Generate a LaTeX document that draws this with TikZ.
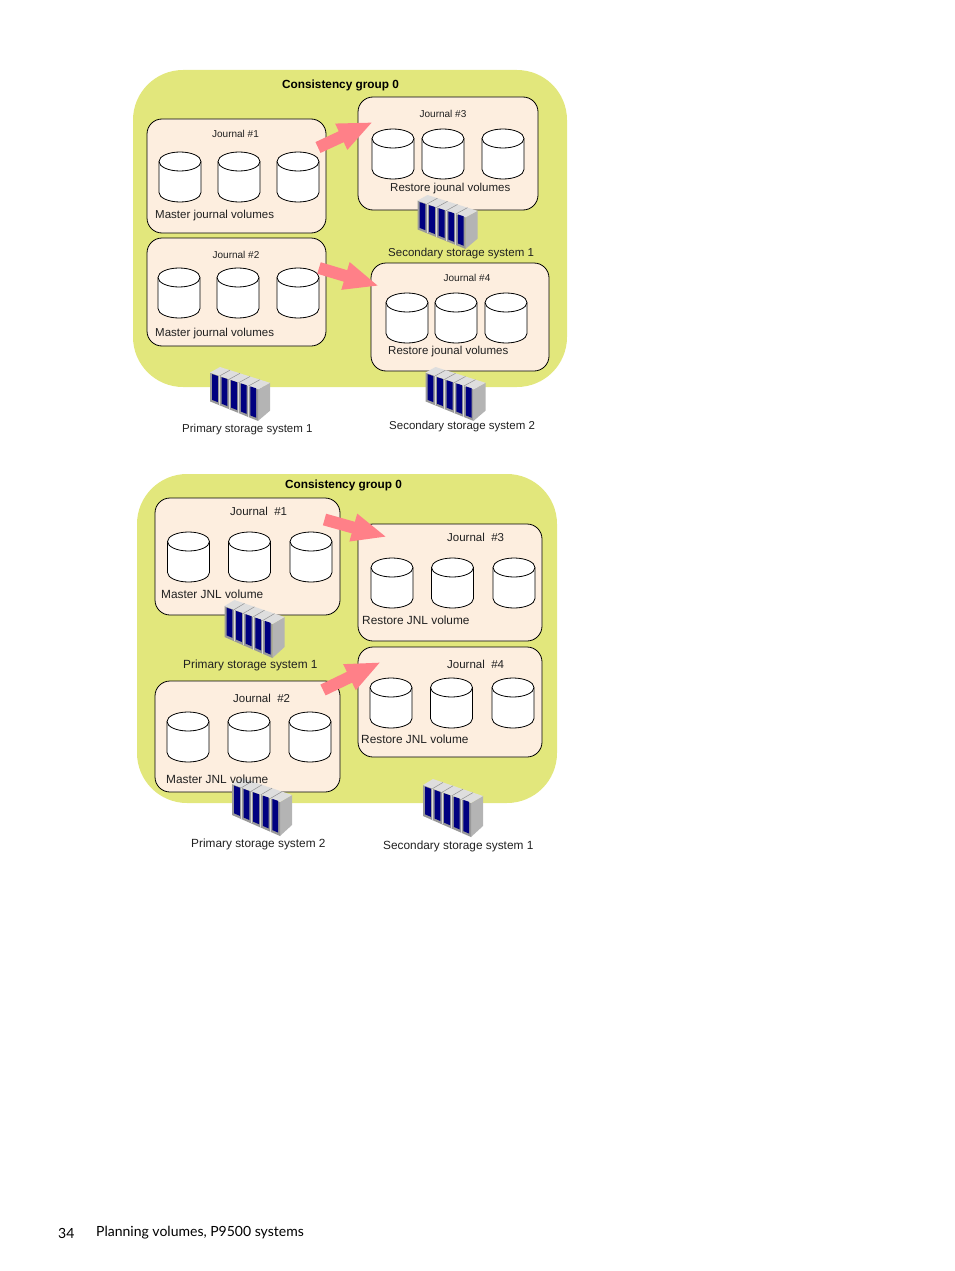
\documentclass[tikz,border=0pt]{standalone}
\usepackage{fontspec}
\setmainfont{Liberation Sans}
\newfontfamily\footfont{Lato}
\usetikzlibrary{arrows.meta}
\definecolor{grp}{HTML}{E2E77C}
\definecolor{jnl}{HTML}{FDEEDF}
\definecolor{pinkar}{HTML}{FF8088}
\definecolor{rackblue}{HTML}{000080}
\definecolor{rackgrey}{HTML}{B4B4B4}
\definecolor{racklight}{HTML}{DEDEDE}
\definecolor{txt}{HTML}{202020}
\tikzset{
  x=1pt,y=-1pt,
  group/.style={fill=grp,draw=none,rounded corners=50pt,inner sep=0pt},
  jbox/.style={fill=jnl,draw=black,line width=0.8pt,rounded corners=15pt,inner sep=0pt},
  lbl/.style={anchor=west,inner sep=0pt,text=txt,font=\fontsize{11.5}{14}\selectfont},
  blbl/.style={anchor=west,inner sep=0pt,text=txt,font=\fontsize{11.85}{14}\selectfont},
  jlbl/.style={anchor=center,inner sep=0pt,text=txt,font=\fontsize{10}{12}\selectfont},
  glbl/.style={anchor=west,inner sep=0pt,text=black,font=\bfseries\fontsize{11.8}{14}\selectfont},
  foot/.style={anchor=west,inner sep=0pt,text=black,font=\footfont\fontsize{14}{18}\selectfont},
  flow/.style={draw=pinkar,line width=12pt,-{Triangle[length=35pt,width=26pt,fill=pinkar]}},
  cyl/.pic={
    \draw[black,line width=0.8pt,fill=white] (0,9.5) -- (0,40.5)
       arc[start angle=180,end angle=0,x radius=21,y radius=9.5] -- (42,9.5);
    \draw[black,line width=0.8pt,fill=white] (21,9.5) ellipse[x radius=21,y radius=9.5];
  },
  rack/.pic={
    \fill[rackgrey] (48,24) -- (60,17) -- (60,47) -- (48,58) -- cycle;
    \fill[rackgrey!85!black] (0,6) -- (48,24) -- (48,58) -- (0,37) -- cycle;
    \fill[racklight] (0,6) -- (10,0) -- (60,17) -- (48,24) -- cycle;
    \foreach \i in {1,2,3,4}{
      \draw[rackgrey!80!black,line width=0.5pt] ({\i*9.6},{6+\i*3.6}) -- ({\i*10+10},{\i*3.4});
      \draw[rackgrey!45!white,line width=0.9pt] ({\i*9.6},{6.5+\i*3.6}) -- ({\i*9.6},{37+\i*4.2});
    }
    \foreach \i in {0,1,2,3,4}{
      \fill[rackblue] ({\i*9.6+2},{7.7+\i*3.3}) -- ({\i*9.6+7.8},{9.7+\i*3.3})
         -- ({\i*9.6+7.8},{37.8+\i*4.2}) -- ({\i*9.6+2},{35.3+\i*4.2}) -- cycle;
    }
  },
}
\newcommand{\cyltriple}[4]{%
  \pic at (#1,#4) {cyl};\pic at (#2,#4) {cyl};\pic at (#3,#4) {cyl};}
\begin{document}
\begin{tikzpicture}
\useasboundingbox (0,0) rectangle (954,1271);
% top group
\node[group,minimum width=434pt,minimum height=317pt] (gA) at (350,228.5) {};
\node[jbox,minimum width=179pt,minimum height=114pt] (a1) at (236.5,176) {};
\node[jbox,minimum width=179pt,minimum height=108pt] (a2) at (236.5,292) {};
\node[jbox,minimum width=180pt,minimum height=113pt] (a3) at (448,153.5) {};
\node[jbox,minimum width=178pt,minimum height=108pt] (a4) at (460,317) {};
\cyltriple{159}{218}{277}{152}
\cyltriple{158}{217}{277}{268}
\cyltriple{372}{422}{482}{129}
\cyltriple{386}{435}{485}{293}
\pic[yscale=.93] at (210,367) {rack};
\pic[yscale=.93] at (417.5,195) {rack};
\pic[yscale=.93] at (425.5,367) {rack};
% bottom group
\node[group,minimum width=420pt,minimum height=329pt] (gB) at (347,638.5) {};
\node[jbox,minimum width=185pt,minimum height=117pt] (b1) at (247.5,556.5) {};
\node[jbox,minimum width=185pt,minimum height=111pt] (b2) at (247.5,736.5) {};
\node[jbox,minimum width=184pt,minimum height=117pt] (b3) at (450,582.5) {};
\node[jbox,minimum width=184pt,minimum height=110pt] (b4) at (450,702) {};
\cyltriple{167.5}{228.5}{290}{532}
\cyltriple{371}{431.5}{493}{558}
\cyltriple{370}{430.5}{492}{678}
\cyltriple{167}{228}{289}{712}
\pic at (224.5,600) {rack};
\pic at (232,778) {rack};
\pic at (423,779) {rack};
% flows
\coordinate (fa1s) at (318,147.5); \coordinate (fa1e) at (373,122);
\coordinate (fa2s) at (319,268); \coordinate (fa2e) at (379,286);
\coordinate (fb1s) at (324.5,519.5); \coordinate (fb1e) at (387,537);
\coordinate (fb2s) at (323,690); \coordinate (fb2e) at (381,662);
\draw[flow] (fa1s) -- (fa1e);
\draw[flow] (fa2s) -- (fa2e);
\draw[flow] (fb1s) -- (fb1e);
\draw[flow] (fb2s) -- (fb2e);
% labels top
\node[glbl] (t1) at (282,85) {Consistency group 0};
\node[jlbl] (t2) at (235.5,134) {Journal \#1};
\node[jlbl] (t3) at (236,255) {Journal \#2};
\node[jlbl] (t4) at (443,114) {Journal \#3};
\node[jlbl] (t5) at (467,278) {Journal \#4};
\node[lbl] (t6) at (155,215.5) {Master journal volumes};
\node[lbl] (t7) at (155,334) {Master journal volumes};
\node[lbl] (t8) at (390,189) {Restore jounal volumes};
\node[lbl] (t9) at (388,352) {Restore jounal volumes};
\node[lbl] (t10) at (388,253.5) {Secondary storage system 1};
\node[lbl] (t11) at (182,430) {Primary storage system 1};
\node[lbl] (t12) at (389,426.5) {Secondary storage system 2};
% labels bottom
\node[glbl] (u1) at (285,485) {Consistency group 0};
\node[lbl] (u2) at (230,511) {Journal~~\#1};
\node[lbl] (u3) at (233,698) {Journal~~\#2};
\node[lbl] (u4) at (447,537) {Journal~~\#3};
\node[lbl] (u5) at (447,664) {Journal~~\#4};
\node[blbl] (u6) at (161,594) {Master JNL volume};
\node[blbl] (u7) at (166,779) {Master JNL volume};
\node[blbl] (u8) at (362,620) {Restore JNL volume};
\node[blbl] (u9) at (361,739) {Restore JNL volume};
\node[blbl] (u10) at (183,665.5) {Primary storage system 1};
\node[blbl] (u11) at (191,844.5) {Primary storage system 2};
\node[blbl] (u12) at (383,846.5) {Secondary storage system 1};
% footer
\node[foot] (p1) at (58,1233) {34};
\node[foot] (p2) at (96,1233) {Planning volumes, P9500 systems};
\end{tikzpicture}
\end{document}
